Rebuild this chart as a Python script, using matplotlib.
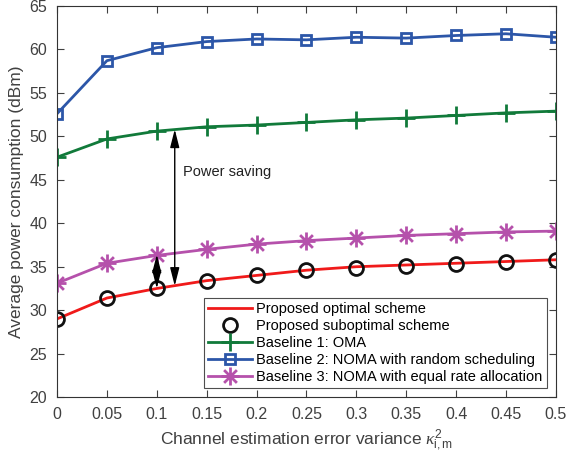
import matplotlib
matplotlib.use('Agg')
import matplotlib.pyplot as plt
from matplotlib.path import Path
import numpy as np

plt.rcParams['font.family'] = ['Liberation Sans', 'DejaVu Sans']
plt.rcParams['mathtext.fontset'] = 'custom'
plt.rcParams['mathtext.it'] = 'Liberation Serif:italic'
plt.rcParams['mathtext.rm'] = 'Liberation Sans'

# Data
x = [0, 0.05, 0.1, 0.15, 0.2, 0.25, 0.3, 0.35, 0.4, 0.45, 0.5]
optimal = [29.0, 31.4, 32.5, 33.4, 34.0, 34.6, 35.0, 35.2, 35.4, 35.6, 35.8]
suboptimal = [29.0, 31.4, 32.5, 33.4, 34.0, 34.6, 34.9, 35.1, 35.3, 35.6, 35.8]
oma = [47.6, 49.7, 50.6, 51.1, 51.3, 51.6, 51.9, 52.1, 52.4, 52.7, 52.9]
noma_random = [52.6, 58.7, 60.2, 60.9, 61.2, 61.1, 61.4, 61.3, 61.6, 61.8, 61.4]
noma_equal = [33.1, 35.4, 36.3, 37.0, 37.6, 38.0, 38.3, 38.6, 38.8, 39.0, 39.1]

c_red = '#f01a1a'
c_green = '#117a3a'
c_blue = '#2c56a8'
c_mag = '#b551ab'
txt = '#404040'

# MATLAB-style 8-arm asterisk marker
d = 0.7071
verts = [(-1, 0), (1, 0), (0, -1), (0, 1), (-d, -d), (d, d), (-d, d), (d, -d)]
codes = [Path.MOVETO, Path.LINETO] * 4
asterisk = Path(verts, codes)

fig = plt.figure(figsize=(5.76, 4.57), dpi=100)
ax = fig.add_axes([0.099, 0.131, 0.866, 0.856])

ax.plot(x, optimal, color=c_red, lw=2, label='Proposed optimal scheme')
ax.plot(x, suboptimal, ls='none', marker='o', ms=10, mfc='none', mec='#111111',
        mew=2, label='Proposed suboptimal scheme')
ax.plot(x, oma, color=c_green, lw=2, marker='+', ms=13, mew=2,
        label='Baseline 1: OMA')
ax.plot(x, noma_random, color=c_blue, lw=2, marker='s', ms=7, mfc='none', mew=2,
        label='Baseline 2: NOMA with random scheduling')
ax.plot(x, noma_equal, color=c_mag, lw=2, marker=asterisk, ms=13, mew=2,
        mfc='none', label='Baseline 3: NOMA with equal rate allocation')

# Power saving arrows
arrow = dict(arrowstyle='<|-|>,head_length=1.1,head_width=0.28', color='black',
             lw=1, mutation_scale=10, shrinkA=0, shrinkB=0)
ax.annotate('', xy=(0.118, 50.8), xytext=(0.118, 32.8), arrowprops=arrow,
            zorder=6)
ax.annotate('', xy=(0.1, 36.4), xytext=(0.1, 32.5), arrowprops=arrow,
            zorder=6)
ax.text(0.126, 45.9, 'Power saving', fontsize=10.5, color='#222222', va='center')

ax.set_xlim(0, 0.5)
ax.set_ylim(20, 65)
ax.set_xticks(x)
ax.set_xticklabels(['0', '0.05', '0.1', '0.15', '0.2', '0.25', '0.3', '0.35',
                    '0.4', '0.45', '0.5'])
ax.set_yticks(np.arange(20, 66, 5))
ax.tick_params(direction='in', top=True, right=True, labelsize=11.5,
               colors=txt, length=5, pad=7)
for s in ax.spines.values():
    s.set_color('#333333')
    s.set_linewidth(0.8)

ax.set_xlabel(r'Channel estimation error variance $\kappa^2_{\mathrm{i,m}}$',
              fontsize=12.5, color=txt)
ax.set_ylabel('Average power consumption (dBm)', fontsize=12.5, color=txt)

leg = ax.legend(loc='lower right', fontsize=10.5, frameon=True, fancybox=False,
                edgecolor='#222222', borderpad=0.3, labelspacing=0.2,
                handlelength=3.0, handletextpad=0.3, borderaxespad=0.6)
leg.get_frame().set_linewidth(0.8)

fig.savefig('out.png', dpi=100)
